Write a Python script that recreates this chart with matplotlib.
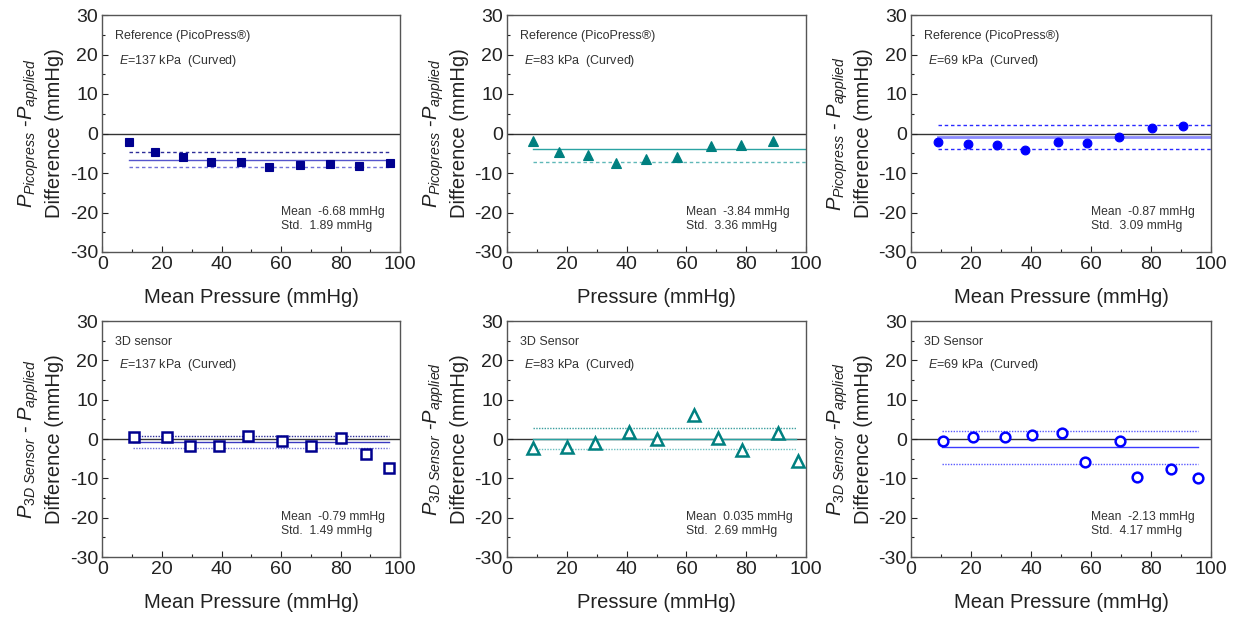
import matplotlib
matplotlib.use("Agg")
import matplotlib.pyplot as plt
from matplotlib.ticker import MultipleLocator

plt.rcParams['font.family'] = ['Liberation Sans', 'DejaVu Sans']
plt.rcParams['mathtext.fontset'] = 'custom'
plt.rcParams['mathtext.it'] = 'Liberation Sans:italic'
plt.rcParams['mathtext.rm'] = 'Liberation Sans'
plt.rcParams['axes.unicode_minus'] = False

# ---------------- data ----------------
# Panel 1: Reference, E=137 kPa
p1_x = [9.1, 17.7, 27.1, 36.5, 46.6, 55.9, 66.3, 76.3, 86.1, 96.4]
p1_y = [-2.2, -4.8, -6.05, -7.2, -7.25, -8.4, -7.9, -7.7, -8.2, -7.5]
p1_mean, p1_std = -6.68, 1.89
# Panel 2: Reference, E=83 kPa
p2_x = [8.7, 17.5, 27.2, 36.3, 46.6, 56.8, 68.3, 78.2, 88.9]
p2_y = [-2.0, -4.6, -5.4, -7.4, -6.5, -6.0, -3.05, -2.9, -1.8]
p2_mean, p2_std = -3.84, 3.36
# Panel 3: Reference, E=69 kPa
p3_x = [9.1, 18.9, 28.7, 38.0, 48.9, 58.6, 69.4, 80.4, 90.8]
p3_y = [-2.2, -2.6, -2.9, -4.3, -2.2, -2.5, -0.9, 1.5, 1.9]
p3_mean, p3_std = -0.87, 3.09
# Panel 4: 3D sensor, E=137 kPa
p4_x = [10.6, 21.6, 29.5, 39.3, 48.8, 60.2, 70.0, 80.0, 88.5, 96.1]
p4_y = [0.4, 0.6, -1.7, -1.7, 0.7, -0.5, -1.9, 0.3, -3.7, -7.3]
p4_mean, p4_std = -0.79, 1.49
# Panel 5: 3D sensor, E=83 kPa
p5_x = [8.7, 20.2, 29.4, 40.9, 50.3, 62.7, 70.6, 78.5, 90.5, 97.2]
p5_y = [-2.4, -2.0, -1.0, 1.7, 0.0, 6.0, 0.2, -2.8, 1.6, -5.6]
p5_mean, p5_std = 0.035, 2.69
# Panel 6: 3D sensor, E=69 kPa
p6_x = [10.5, 20.7, 31.2, 40.3, 50.4, 57.9, 69.7, 75.2, 86.5, 95.5]
p6_y = [-0.5, 0.4, 0.5, 0.9, 1.5, -5.9, -0.4, -9.7, -7.5, -9.9]
p6_mean, p6_std = -2.13, 4.17

titles = ["Reference (PicoPress®)", "Reference (PicoPress®)", "Reference (PicoPress®)",
          "3D sensor", "3D Sensor", "3D Sensor"]
moduli = ["137", "83", "69", "137", "83", "69"]
xlabels = ["Mean Pressure (mmHg)", "Pressure (mmHg)", "Mean Pressure (mmHg)",
           "Mean Pressure (mmHg)", "Pressure (mmHg)", "Mean Pressure (mmHg)"]
ylabels_top = [r"$P_{Picopress}$ -$P_{applied}$", r"$P_{Picopress}$ -$P_{applied}$",
               r"$P_{Picopress}$ - $P_{applied}$", r"$P_{3D\ Sensor}$ - $P_{applied}$",
               r"$P_{3D\ Sensor}$ -$P_{applied}$", r"$P_{3D\ Sensor}$ -$P_{applied}$"]

# ---------------- styling ----------------
W, H = 1234, 618
fig = plt.figure(figsize=(W / 100, H / 100), dpi=100)

lefts = [102.3, 507, 911]
widths = [298, 299, 300]
tops = [15, 321]
heights = [237, 236]

panels = [
    dict(x=p1_x, y=p1_y, mean=p1_mean, std=p1_std, marker='s', ms=6, mfc='#00008F', mec='#00008F', mew=0.8,
         mcol='#5555CC', mlw=1.0, dcols=('#2E2E99', '#7070D8'), ls=(0, (2.5, 2)), span=(9.1, 96.3), upper=True),
    dict(x=p2_x, y=p2_y, mean=p2_mean, std=p2_std, marker='^', ms=7, mfc='#008080', mec='#008080', mew=0.8,
         mcol='#2AA3A3', mlw=1.0, dcols=('#5FB8B8', '#5FB8B8'), ls=(0, (2.5, 2)), span=(8.7, 100), upper=False),
    dict(x=p3_x, y=p3_y, mean=p3_mean, std=p3_std, marker='o', ms=6.3, mfc='#0000FF', mec='#0000FF', mew=0.8,
         mcol='#8C8CFF', mlw=2.0, dcols=('#2A2AFF', '#2A2AFF'), ls=(0, (2.5, 2)), span=(9.1, 100), upper=True),
    dict(x=p4_x, y=p4_y, mean=p4_mean, std=p4_std, marker='s', ms=6.5, mfc='white', mec='#00008F', mew=1.8,
         mcol='#3A3AC0', mlw=1.0, dcols=('#2E2E99', '#7070D8'), ls=(0, (1, 1)), span=(10.4, 96.2), upper=True),
    dict(x=p5_x, y=p5_y, mean=p5_mean, std=p5_std, marker='^', ms=8, mfc='white', mec='#008080', mew=1.8,
         mcol='#2AA3A3', mlw=1.0, dcols=('#3A9E9E', '#6CC0C0'), ls=(0, (1, 1)), span=(8.8, 96.7), upper=True),
    dict(x=p6_x, y=p6_y, mean=p6_mean, std=p6_std, marker='o', ms=7, mfc='white', mec='#0000FF', mew=1.8,
         mcol='#3A3AFF', mlw=1.0, dcols=('#5A5AFF', '#5A5AFF'), ls=(0, (1, 1)), span=(10.3, 95.5), upper=True),
]

text_col = '#333333'
for i, p in enumerate(panels):
    r, c = divmod(i, 3)
    left = lefts[c] / W
    bottom = 1 - (tops[r] + heights[r]) / H
    ax = fig.add_axes([left, bottom, widths[c] / W, heights[r] / H])
    ax.set_xlim(0, 100)
    ax.set_ylim(-30, 30)
    ax.xaxis.set_major_locator(MultipleLocator(20))
    ax.xaxis.set_minor_locator(MultipleLocator(10))
    ax.yaxis.set_major_locator(MultipleLocator(10))
    ax.yaxis.set_minor_locator(MultipleLocator(5))
    ax.tick_params(which='both', direction='in', top=False, right=False, labelsize=14,
                   colors='#222222', pad=3)
    ax.tick_params(which='major', length=4, width=0.8)
    ax.tick_params(which='minor', length=2.5, width=0.8)
    for s in ax.spines.values():
        s.set_color('#555555')
        s.set_linewidth(1.0)

    ax.axhline(0, color='#333333', lw=1.0, zorder=1)
    x0, x1 = p['span']
    ax.plot([x0, x1], [p['mean'], p['mean']], color=p['mcol'], lw=p['mlw'], zorder=2)
    if p['upper']:
        ax.plot([x0, x1], [p['mean'] + p['std']] * 2, color=p['dcols'][0], lw=1.0, ls=p['ls'], zorder=2)
    ax.plot([x0, x1], [p['mean'] - p['std']] * 2, color=p['dcols'][1], lw=1.0, ls=p['ls'], zorder=2)

    ax.plot(p['x'], p['y'], ls='none', marker=p['marker'], ms=p['ms'], mfc=p['mfc'],
            mec=p['mec'], mew=p['mew'], zorder=3)

    ax.text(4.3, 24.7, titles[i], fontsize=9, color=text_col, va='center', ha='left')
    ax.text(5.6, 18.3 if r == 0 else 18.8, r"$E$=" + moduli[i] + " kPa  (Curved)", fontsize=9,
            color=text_col, va='center', ha='left')
    mean_str = f"{p['mean']:.3f}" if i == 4 else f"{p['mean']:.2f}"
    ax.text(60, -19.8, f"Mean  {mean_str} mmHg", fontsize=8.7, color=text_col, va='center', ha='left')
    ax.text(60, -23.4, f"Std.  {p['std']:.2f} mmHg", fontsize=8.7, color=text_col, va='center', ha='left')

    ax.set_xlabel(xlabels[i], fontsize=14.5, color='#222222', labelpad=11)
    ax.set_ylabel(ylabels_top[i] + "\nDifference (mmHg)", fontsize=14.5, color='#222222',
                  labelpad=4, linespacing=1.3)

fig.savefig("out.png", dpi=100)
